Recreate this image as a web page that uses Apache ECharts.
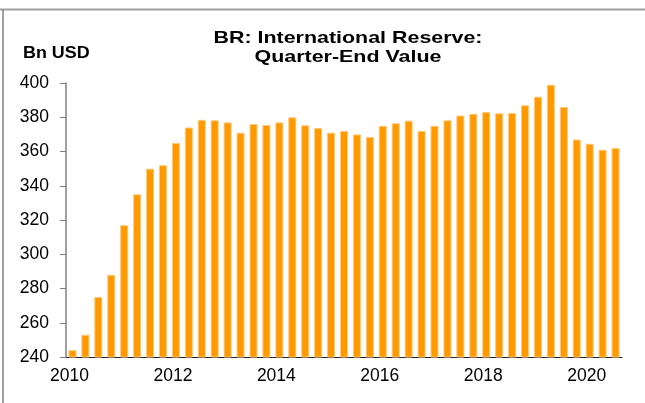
<!DOCTYPE html>
<html>
<head>
<meta charset="utf-8">
<script src="https://cdn.jsdelivr.net/npm/echarts@6/dist/echarts.min.js"></script>
<style>
  html, body { margin: 0; padding: 0; background: #fff; }
  #chart { width: 645px; height: 403px; }
</style>
</head>
<body>
<div id="chart"></div>
<script>
// quarters 2010Q1 .. 2020Q3
const quarters = [];
for (let y = 2010; y <= 2020; y++) {
  for (let q = 1; q <= 4; q++) {
    if (y === 2020 && q === 4) break;
    quarters.push(y + 'Q' + q);
  }
}

// quarter-end value, Bn USD
const reserves = [
  244, 253, 275, 288,
  317, 335, 350, 352,
  365, 374, 378.5, 378.2,
  377, 371, 376, 375.5,
  377, 380, 375.3, 373.7,
  371, 372, 370, 368.5,
  375, 376.5, 378, 372,
  375, 378.2, 381, 382,
  383, 382.3, 382.5, 387,
  392, 399, 386, 367,
  364.5, 361, 362
];

const yTicks = { min: 240, max: 400, step: 20 };

const chart = echarts.init(document.getElementById('chart'));

const font = '"Liberation Sans", Arial, sans-serif';

const option = {
  animation: false,
  backgroundColor: '#fff',
  graphic: [
    // 图框
    { type: 'line', shape: { x1: 0, y1: 9.5, x2: 645, y2: 9.5 }, style: { stroke: '#a0a0a0', lineWidth: 2 } },
    { type: 'line', shape: { x1: 3, y1: 10, x2: 3, y2: 403 }, style: { stroke: '#808080', lineWidth: 1.5 } },
    // 标题 (原图文字横向拉伸)
    {
      type: 'text', x: 348, y: 29, scaleX: 1.26,
      style: {
        text: 'BR: International Reserve:\nQuarter-End Value',
        font: 'bold 17px ' + font,
        align: 'center',
        verticalAlign: 'top',
        lineHeight: 19,
        fill: '#000'
      }
    },
    // 单位
    {
      type: 'text', x: 23, y: 46, scaleX: 1.12,
      style: { text: 'Bn USD', font: 'bold 16px ' + font, verticalAlign: 'top', fill: '#000' }
    }
  ],
  grid: { left: 66, right: 23, top: 83, bottom: 46 },
  xAxis: {
    type: 'category',
    data: quarters,
    boundaryGap: true,
    axisLine: { lineStyle: { color: '#222', width: 1 } },
    axisTick: {
      length: 5,
      interval: (i) => i % 4 === 0,
      lineStyle: { color: '#222' }
    },
    axisLabel: {
      interval: (i) => i % 8 === 0,
      formatter: (v) => v.slice(0, 4),
      margin: 10,
      padding: [0, 6, 0, 0],
      fontFamily: font,
      fontSize: 17.5,
      color: '#000'
    },
    splitLine: { show: false }
  },
  yAxis: {
    type: 'value',
    min: yTicks.min,
    max: yTicks.max,
    interval: yTicks.step,
    axisLine: { show: true, lineStyle: { color: '#808080', width: 1.5 } },
    axisTick: { show: true, length: 6, lineStyle: { color: '#808080' } },
    axisLabel: {
      margin: 17,
      fontFamily: font,
      fontSize: 17.5,
      color: '#000'
    },
    splitLine: { show: false }
  },
  series: [{
    type: 'bar',
    data: reserves,
    barWidth: 8,
    itemStyle: {
      color: '#FF9900',
      borderColor: '#FFC878',
      borderWidth: 1
    }
  }]
};

chart.setOption(option);
</script>
</body>
</html>
